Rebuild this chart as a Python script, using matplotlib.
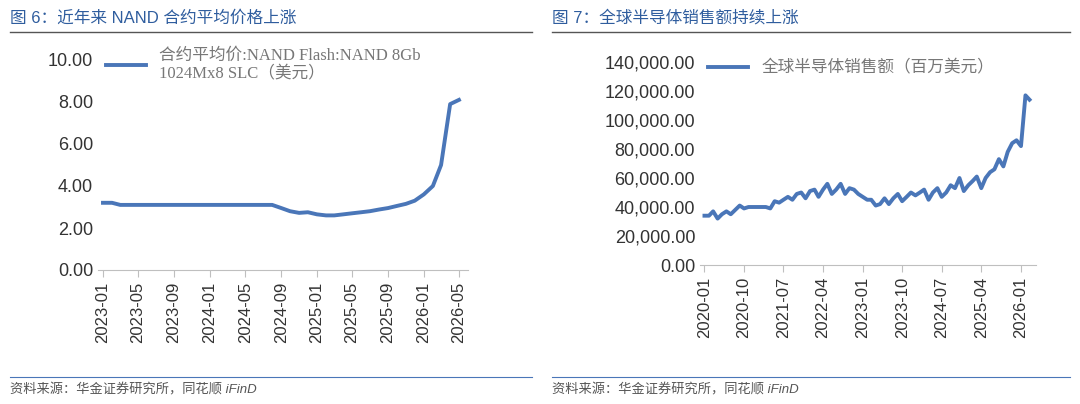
import matplotlib.pyplot as plt
import pandas as pd

plt.rcParams['font.family'] = ['Liberation Sans', 'Noto Sans CJK SC', 'DejaVu Sans']

# left: NAND contract average price (USD), monthly 2023-01..2026-05
nand_dates = pd.date_range('2023-01-01', '2026-05-01', freq='MS')
nand_price = [3.2, 3.2, 3.1, 3.1, 3.1, 3.1, 3.1, 3.1, 3.1, 3.1, 3.1, 3.1,
              3.1, 3.1, 3.1, 3.1, 3.1, 3.1, 3.1, 3.1, 2.95, 2.8, 2.72, 2.75,
              2.65, 2.6, 2.6, 2.65, 2.7, 2.75, 2.8, 2.88, 2.95, 3.05, 3.15, 3.3,
              3.6, 4.0, 5.0, 7.9, 8.1]
nand_ticks = ['2023-01', '2023-05', '2023-09', '2024-01', '2024-05', '2024-09',
              '2025-01', '2025-05', '2025-09', '2026-01', '2026-05']

# right: global semiconductor sales (USD mn), monthly 2020-01..2026-03
semi_dates = pd.date_range('2020-01-01', '2026-03-01', freq='MS')
semi_sales = [34, 34, 37, 32, 35, 37, 35, 38, 41, 39, 40, 40,
              40, 40, 40, 39, 44, 43, 45, 47, 45, 49, 50, 46,
              51, 52, 47, 52, 56, 49, 52, 56, 49, 53, 52, 49,
              47, 45, 45, 41, 42, 46, 42, 46, 49, 44, 47, 50,
              48, 50, 52, 45, 50, 53, 47, 50, 55, 53, 60, 51,
              55, 58, 61, 53, 60, 64, 66, 73, 68, 78, 84, 86,
              82, 117, 114]
semi_sales = [v * 1000 for v in semi_sales]
semi_ticks = ['2020-01', '2020-10', '2021-07', '2022-04', '2023-01', '2023-10',
              '2024-07', '2025-04', '2026-01']

blue = '#4a76b8'
title_c = '#2f5d9e'
serif = ['Liberation Serif', 'Noto Sans CJK SC']
fig = plt.figure(figsize=(10.8, 4.04), dpi=100)
W, H = 1080, 404


def box(x0, y0, x1, y1):
    return [x0 / W, 1 - y1 / H, (x1 - x0) / W, (y1 - y0) / H]


def style(ax):
    for s in ['top', 'right', 'left']:
        ax.spines[s].set_visible(False)
    ax.spines['bottom'].set_color('#bfbfbf')
    ax.tick_params(axis='y', length=0, labelsize=13, colors='#333333')
    ax.tick_params(axis='x', color='#bfbfbf', labelsize=12, labelcolor='#333333',
                   rotation=90, length=5)


ax1 = fig.add_axes(box(98, 60, 468, 270))
ax1.plot(nand_dates, nand_price, color=blue, lw=2.8,
         label='合约平均价:NAND Flash:NAND 8Gb\n1024Mx8 SLC（美元）')
ax1.set_ylim(0, 10)
ax1.set_yticks(range(0, 11, 2))
ax1.set_yticklabels([f'{v:.2f}' for v in range(0, 11, 2)])
ax1.set_xticks(pd.to_datetime(nand_ticks))
ax1.set_xticklabels(nand_ticks)
ax1.set_xlim(pd.Timestamp('2022-12-15'), pd.Timestamp('2026-06-01'))
style(ax1)
ax1.legend(loc='upper left', bbox_to_anchor=(-0.02, 1.13), frameon=False,
           prop={'family': serif, 'size': 12}, labelcolor='#777777', handlelength=2.4)

ax2 = fig.add_axes(box(700, 62, 1036, 265))
ax2.plot(semi_dates, semi_sales, color=blue, lw=2.8, label='全球半导体销售额（百万美元）')
ax2.set_ylim(0, 140000)
ax2.set_yticks(range(0, 140001, 20000))
ax2.set_yticklabels([f'{v:,.2f}' for v in range(0, 140001, 20000)])
ax2.set_xticks(pd.to_datetime(semi_ticks))
ax2.set_xticklabels(semi_ticks)
ax2.set_xlim(pd.Timestamp('2019-12-01'), pd.Timestamp('2026-04-15'))
style(ax2)
ax2.legend(loc='upper left', bbox_to_anchor=(-0.02, 1.08), frameon=False,
           prop={'family': serif, 'size': 12}, labelcolor='#777777', handlelength=2.4)

# titles, rules and sources
for x0, x1, t in [(10, 532, '图 6：近年来 NAND 合约平均价格上涨'),
                  (552, 1070, '图 7：全球半导体销售额持续上涨')]:
    fig.text(x0 / W, 1 - 18 / H, t, color=title_c, fontsize=12, va='center')
    fig.add_artist(plt.Line2D([x0 / W, x1 / W], [1 - 32 / H] * 2, color='#555555', lw=1))
    fig.add_artist(plt.Line2D([x0 / W, x1 / W], [1 - 377 / H] * 2, color='#4a76b8', lw=0.8))
    fig.text(x0 / W, 1 - 390 / H, '资料来源：华金证券研究所，同花顺 iFinD', color='#555555',
             fontsize=9.5, style='italic', va='center')

fig.savefig('out.png', dpi=100)
